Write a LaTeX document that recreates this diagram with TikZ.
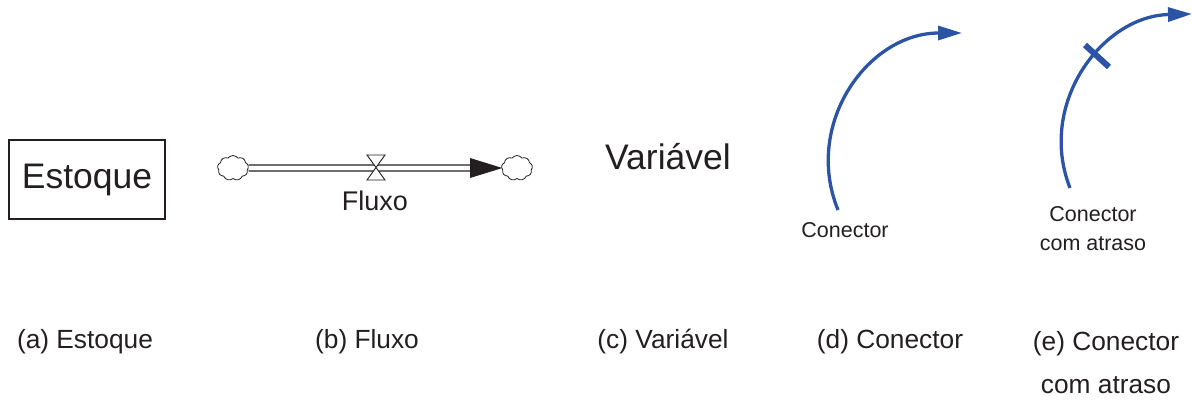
\documentclass[tikz,border=0pt]{standalone}
\usepackage{fontspec}
\setmainfont{Liberation Sans}
\usetikzlibrary{arrows.meta,shapes.symbols}
\definecolor{ink}{RGB}{35,31,32}
\definecolor{linkblue}{RGB}{44,84,166}
\begin{document}
\begin{tikzpicture}[x=1pt,y=-1pt,
  txt/.style={text=ink,inner sep=0pt},
  bigtext/.style={txt,font=\fontsize{35.5}{40}\selectfont},
  captext/.style={txt,font=\fontsize{26.3}{30}\selectfont},
  smalltext/.style={txt,font=\fontsize{21.5}{29}\selectfont,align=center},
  stockbox/.style={draw=ink,line width=1.3pt,minimum width=156pt,minimum height=79pt,inner sep=0pt},
  sink/.style={cloud,cloud puffs=9,cloud puff arc=110,draw=ink,line width=0.8pt,minimum width=31pt,minimum height=25pt,inner sep=0pt,aspect=1.3},
  pipe/.style={draw=ink,line width=1.3pt,double=white,double distance=4.8pt},
  link/.style={draw=linkblue,line width=3.3pt,-{Triangle[length=24pt,width=14pt]}}
]
\useasboundingbox (0,0) rectangle (1192,400);

% (a) stock
\node[stockbox,bigtext] (stock) at (87,179.5) {Estoque};

% (b) flow between two clouds
\node[sink] (src) at (233,168) {};
\node[sink] (snk) at (517,168) {};
\coordinate (tipbase) at (470,168);
\draw[pipe] (src.east) -- (tipbase);
\fill[ink] ([yshift=-10]tipbase) -- ([xshift=1]snk.west) -- ([yshift=10]tipbase) -- cycle;
\coordinate (valve) at (376,167.5);
\draw[ink,line width=0.9pt,fill=white]
  ([shift={(-9,-12.5)}]valve) -- ([shift={(9,-12.5)}]valve) -- ([shift={(-9,12.5)}]valve)
  -- ([shift={(9,12.5)}]valve) -- cycle;
\node[captext,font=\fontsize{27}{30}\selectfont] (flowlbl) at (375,201) {Fluxo};

% (c) auxiliary variable
\node[bigtext] (var) at (668,157) {Variável};

% (d) connector
\coordinate (d0) at (838,210);
\coordinate (d1) at (962,33);
\draw[link] (d0) .. controls (803,124) and (868,33) .. (d1);
\node[smalltext] (dlbl) at (845,230) {Conector};

% (e) delayed connector
\coordinate (e0) at (1070,188);
\coordinate (e1) at (1192,14);
\draw[link] (e0) .. controls (1037,104) and (1102,16) .. (e1);
\coordinate (cross) at (1097,56);
\draw[linkblue,line width=6pt] ([shift={(-12,-11)}]cross) -- ([shift={(12,11)}]cross);
\node[smalltext] (elbl) at (1093,228.5) {Conector\\com atraso};

% captions
\node[captext] (ca) at (85,342) {(a) Estoque};
\node[captext] (cb) at (367,342) {(b) Fluxo};
\node[captext] (cc) at (663,342) {(c) Variável};
\node[captext] (cd) at (890,342) {(d) Conector};
\node[captext,align=center,font=\fontsize{26.3}{43}\selectfont] (ce) at (1106,363) {(e) Conector\\com atraso};
\end{tikzpicture}
\end{document}
